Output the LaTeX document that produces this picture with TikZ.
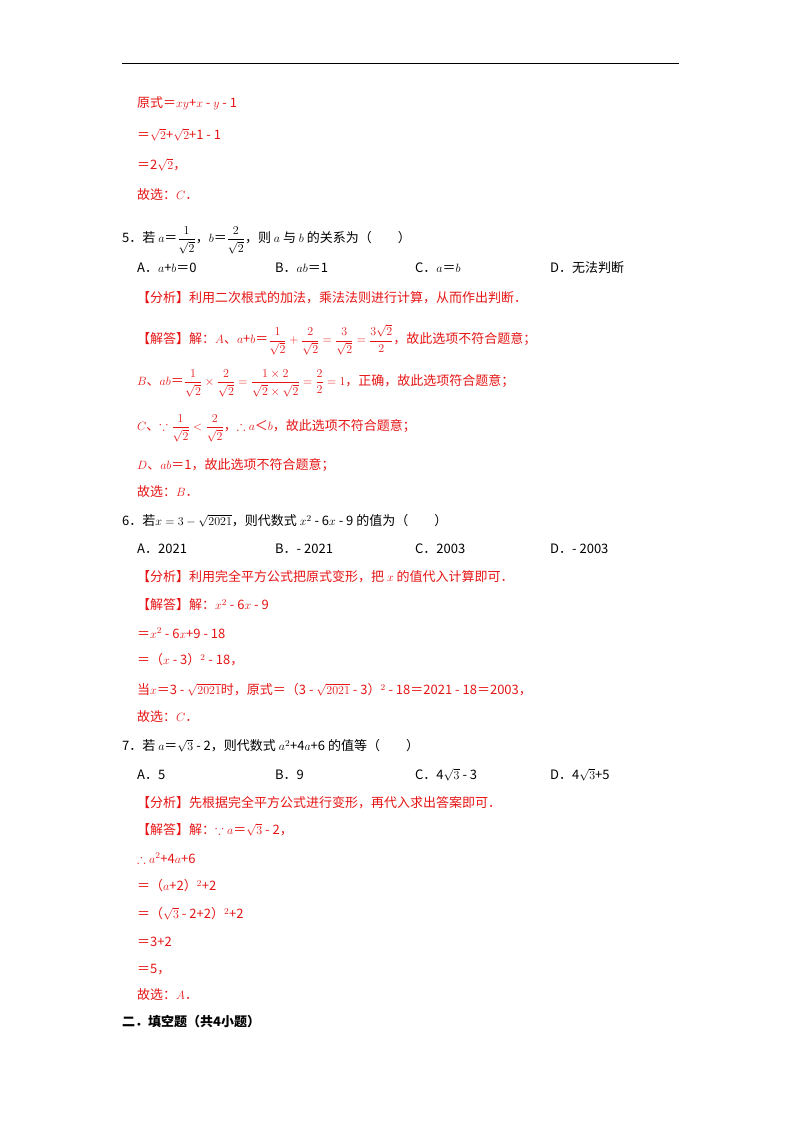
\documentclass[tikz,border=0pt]{standalone}
\usepackage{amsmath,amssymb}
\usepackage{fontspec}
\setmainfont{Noto Sans CJK SC}
\definecolor{rd}{RGB}{230,20,20}
\begin{document}
\begin{tikzpicture}[x=1pt,y=-1pt,
  t/.style={anchor=west,inner sep=0pt,font=\fontsize{13}{15}\selectfont},
  r/.style={t,text=rd}]
\useasboundingbox (0,0) rectangle (800,1132);
\draw[line width=1pt] (122,64) -- (679,64);
\node[r] (l1) at (137,103) {原式＝$xy$+$x$ - $y$ - 1};
\node[r] (l2) at (137,135) {＝$\sqrt{2}$+$\sqrt{2}$+1 - 1};
\node[r] (l3) at (137,165) {＝2$\sqrt{2}$，};
\node[r] (l4) at (137,195) {故选：$C$．};
\node[t] (q5) at (122,240) {5．若 $a$＝$\dfrac{1}{\sqrt{2}}$，$b$＝$\dfrac{2}{\sqrt{2}}$，则 $a$ 与 $b$ 的关系为（\quad\quad）};
\node[t] (a5) at (137,268) {A．$a$+$b$＝0};
\node[t] (b5) at (275,268) {B．$ab$＝1};
\node[t] (c5) at (415,268) {C．$a$＝$b$};
\node[t] (d5) at (550,268) {D．无法判断};
\node[r] (f5) at (137,298) {【分析】利用二次根式的加法，乘法法则进行计算，从而作出判断．};
\node[r] (s5a) at (137,340) {【解答】解：$A$、$a$+$b$＝$\dfrac{1}{\sqrt{2}}+\dfrac{2}{\sqrt{2}}=\dfrac{3}{\sqrt{2}}=\dfrac{3\sqrt{2}}{2}$，故此选项不符合题意；};
\node[r] (s5b) at (137,383) {$B$、$ab$＝$\dfrac{1}{\sqrt{2}}\times\dfrac{2}{\sqrt{2}}=\dfrac{1\times2}{\sqrt{2}\times\sqrt{2}}=\dfrac{2}{2}=1$，正确，故此选项符合题意；};
\node[r] (s5c) at (137,428) {$C$、$\because\dfrac{1}{\sqrt{2}}<\dfrac{2}{\sqrt{2}}$，$\therefore a$＜$b$，故此选项不符合题意；};
\node[r] (s5d) at (137,465) {$D$、$ab$＝1，故此选项不符合题意；};
\node[r] (s5e) at (137,492) {故选：$B$．};
\node[t] (q6) at (122,521) {6．若$x=3-\sqrt{2021}$，则代数式 $x^2$ - 6$x$ - 9 的值为（\quad\quad）};
\node[t] (a6) at (137,549) {A．2021};
\node[t] (b6) at (275,549) {B．- 2021};
\node[t] (c6) at (415,549) {C．2003};
\node[t] (d6) at (550,549) {D．- 2003};
\node[r] (f6) at (137,577) {【分析】利用完全平方公式把原式变形，把 $x$ 的值代入计算即可．};
\node[r] (s6a) at (137,605) {【解答】解：$x^2$ - 6$x$ - 9};
\node[r] (s6b) at (137,633) {＝$x^2$ - 6$x$+9 - 18};
\node[r] (s6c) at (137,660) {＝（$x$ - 3）$^2$ - 18，};
\node[r] (s6d) at (137,690) {当$x$＝3 - $\sqrt{2021}$时，原式＝（3 - $\sqrt{2021}$ - 3）$^2$ - 18＝2021 - 18＝2003，};
\node[r] (s6e) at (137,717) {故选：$C$．};
\node[t] (q7) at (122,746) {7．若 $a$＝$\sqrt{3}$ - 2，则代数式 $a^2$+4$a$+6 的值等（\quad\quad）};
\node[t] (a7) at (137,775) {A．5};
\node[t] (b7) at (275,775) {B．9};
\node[t] (c7) at (415,775) {C．4$\sqrt{3}$ - 3};
\node[t] (d7) at (550,775) {D．4$\sqrt{3}$+5};
\node[r] (f7) at (137,803) {【分析】先根据完全平方公式进行变形，再代入求出答案即可．};
\node[r] (s7a) at (137,830) {【解答】解：$\because a$＝$\sqrt{3}$ - 2，};
\node[r] (s7b) at (137,858) {$\therefore a^2$+4$a$+6};
\node[r] (s7c) at (137,886) {＝（$a$+2）$^2$+2};
\node[r] (s7d) at (137,914) {＝（$\sqrt{3}$ - 2+2）$^2$+2};
\node[r] (s7e) at (137,942) {＝3+2};
\node[r] (s7f) at (137,970) {＝5，};
\node[r] (s7g) at (137,995) {故选：$A$．};
\node[t,font=\fontsize{13}{15}\selectfont\bfseries] (h2) at (122,1022) {二．填空题（共4小题）};
\end{tikzpicture}
\end{document}
